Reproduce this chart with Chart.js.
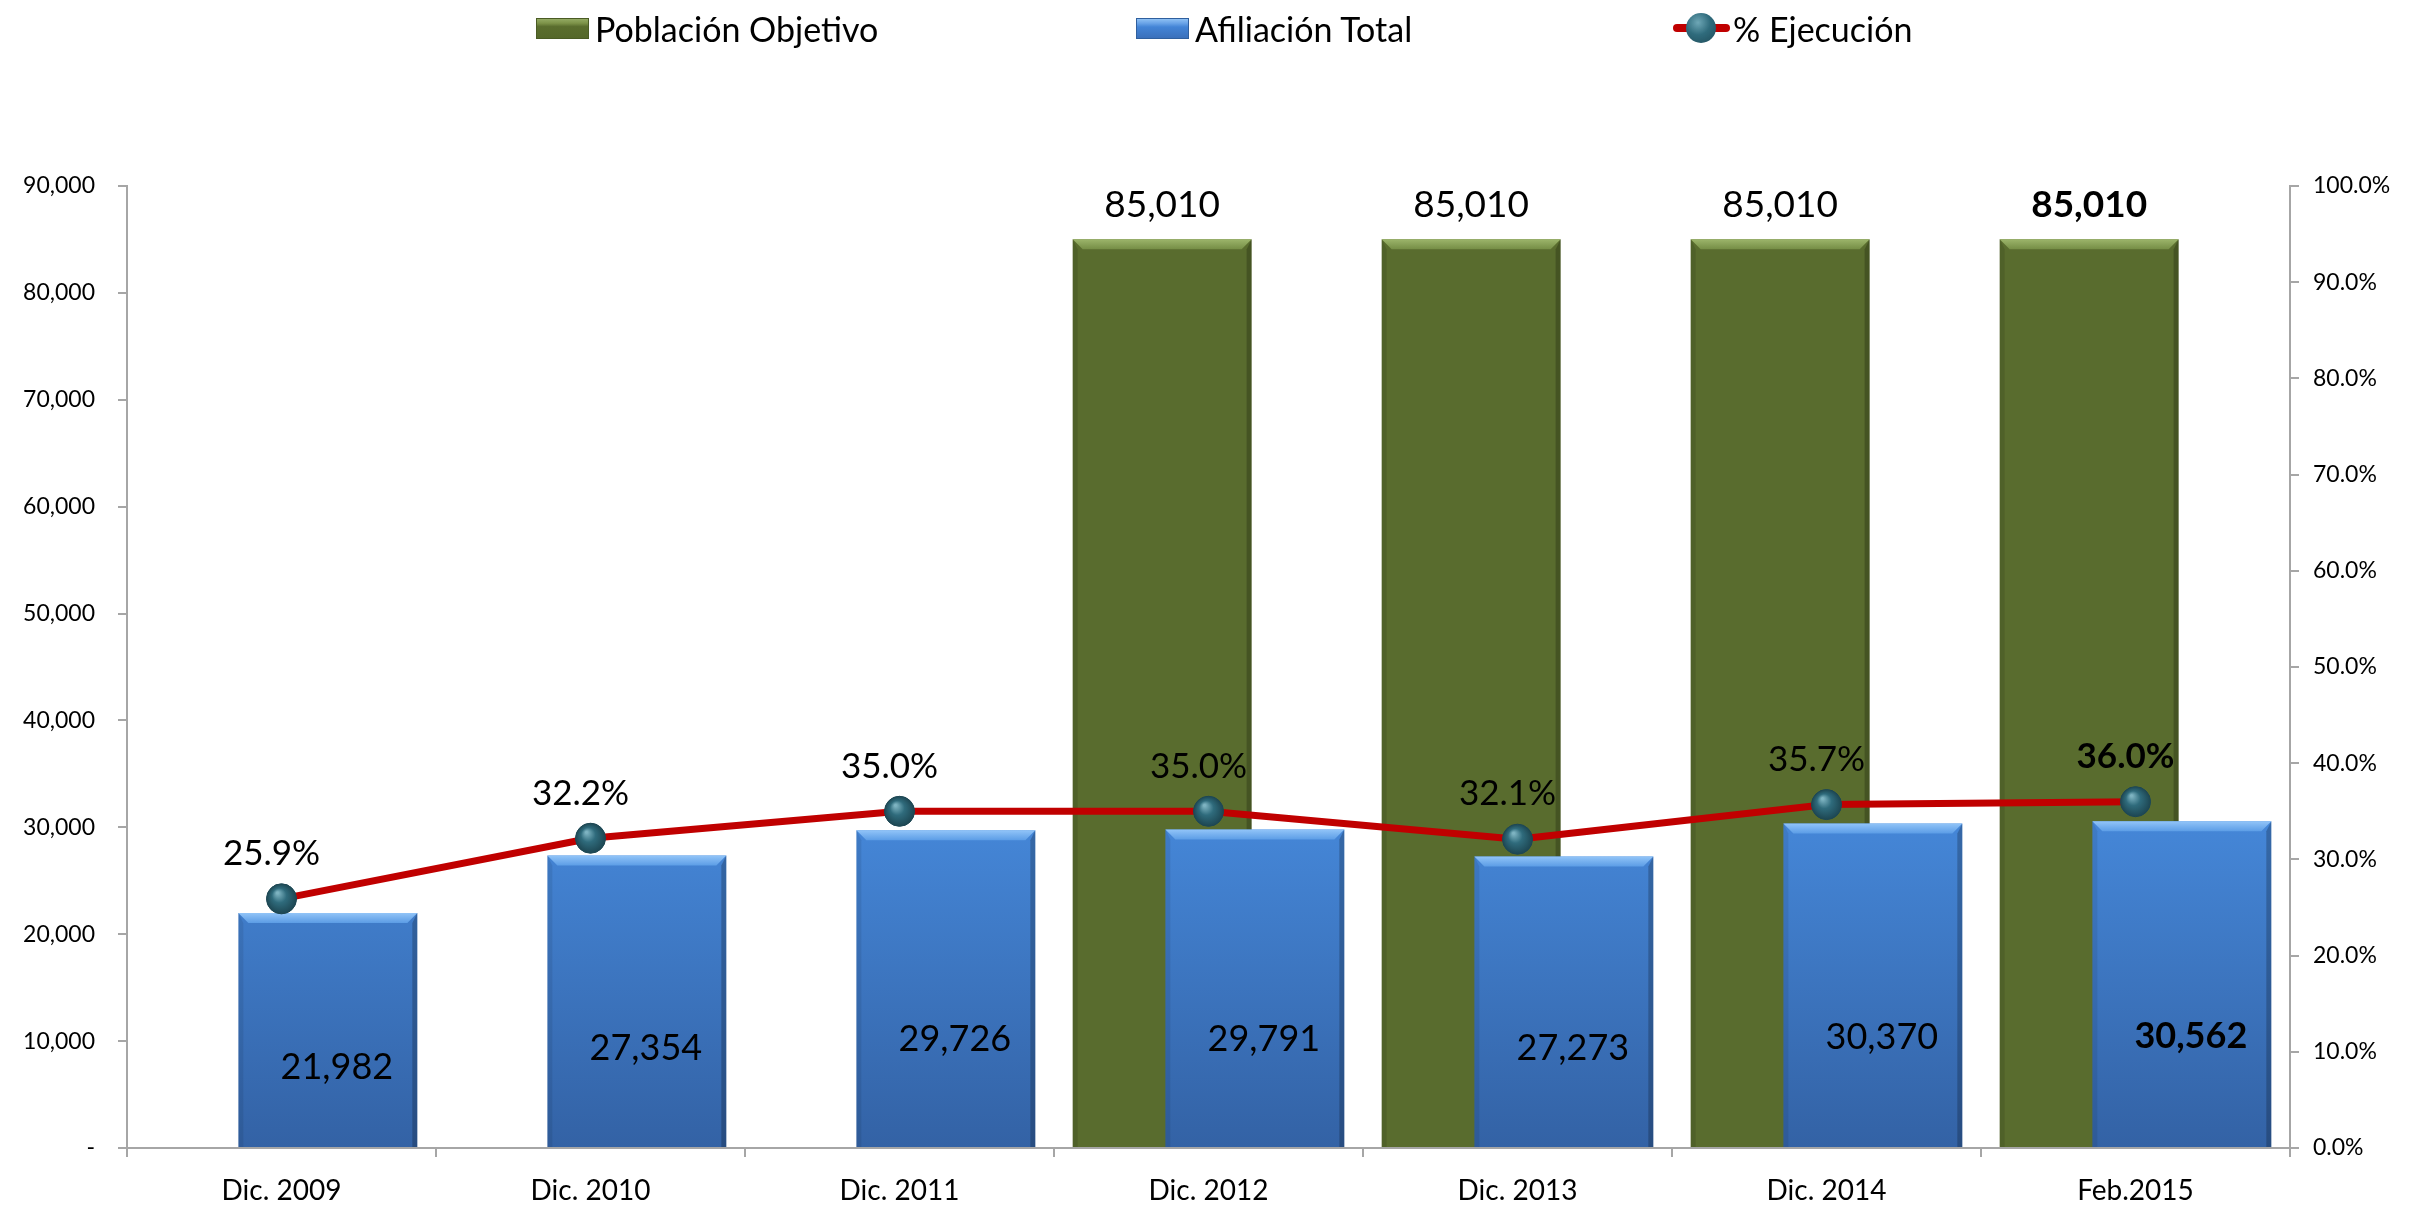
<!DOCTYPE html>
<html>
<head>
<meta charset="utf-8">
<script src="https://cdn.jsdelivr.net/npm/chart.js@4.4.1/dist/chart.umd.min.js"></script>
<style>
  html, body { margin: 0; padding: 0; background: #ffffff; }
  #wrap { position: relative; width: 2428px; height: 1209px; overflow: hidden; background: #fff; }
  #c { position: absolute; left: 0; top: 0; }
  .leg { position: absolute; top: 6px; height: 44px; display: flex; align-items: center;
         font-family: Lato, "Open Sans", sans-serif; font-size: 34px; color: #000; white-space: nowrap; }
  .key { display: inline-block; margin-right: 6px; box-sizing: border-box; }
  .key.bar { width: 53px; height: 21px; }
  .key.green { background: linear-gradient(#93aa63 0%, #7d9349 22%, #5a6d2e 40%, #55682a 100%); border: 1px solid #4a5b24; }
  .key.blue { background: linear-gradient(#8ec0f3 0%, #6aa4e8 22%, #4384d6 42%, #3a70bb 100%); border: 1px solid #2f5f9e; }
  .key.line { position: relative; width: 57px; height: 32px; margin-right: 3px; }
  .key.line::before { content: ""; position: absolute; left: 0; right: 0; top: 12px; height: 8px; background: #c00000; border-radius: 4px; }
  .key.line::after { content: ""; position: absolute; left: 13px; top: 1px; width: 30px; height: 30px; border-radius: 50%;
        background: radial-gradient(circle at 40% 32%, #6ea7b6 0%, #2f6b7c 45%, #1f4b58 100%); }
</style>
</head>
<body>
<div id="wrap">
  <canvas id="c" width="2428" height="1209"></canvas>
  <div id="legend"></div>
</div>
<script>
// ---------- data ----------
const categories = ['Dic. 2009', 'Dic. 2010', 'Dic. 2011', 'Dic. 2012', 'Dic. 2013', 'Dic. 2014', 'Feb.2015'];
const poblacionObjetivo = [null, null, null, 85010, 85010, 85010, 85010];
const afiliacionTotal = [21982, 27354, 29726, 29791, 27273, 30370, 30562];
const ejecucionPct = [25.9, 32.2, 35.0, 35.0, 32.1, 35.7, 36.0];
const seriesNames = ['Población Objetivo', 'Afiliación Total', '% Ejecución'];
const leftAxisRange = [0, 90000];
const leftAxisStep = 10000;
const rightAxisRange = [0, 100];
const rightAxisStep = 10;
const boldIndex = 6; // last period labels are bold

// ---------- helpers ----------
const fmtNum = v => Number(v).toLocaleString('en-US');
const fmtPct = v => Number(v).toFixed(1) + '%';

function barBevel(ctx, el, topA, topB, sideL, sideR) {
  const p = el.getProps(['x', 'y', 'base', 'width'], true);
  const l = p.x - p.width / 2, r = p.x + p.width / 2, t = p.y, b = p.base;
  const bt = 10, bs = 5;
  ctx.save();
  ctx.fillStyle = sideL;
  ctx.beginPath(); ctx.moveTo(l, t); ctx.lineTo(l + bs, t + bt); ctx.lineTo(l + bs, b); ctx.lineTo(l, b); ctx.closePath(); ctx.fill();
  ctx.fillStyle = sideR;
  ctx.beginPath(); ctx.moveTo(r, t); ctx.lineTo(r - bs, t + bt); ctx.lineTo(r - bs, b); ctx.lineTo(r, b); ctx.closePath(); ctx.fill();
  const g = ctx.createLinearGradient(0, t, 0, t + bt);
  g.addColorStop(0, topA); g.addColorStop(1, topB);
  ctx.fillStyle = g;
  ctx.beginPath(); ctx.moveTo(l, t); ctx.lineTo(r, t); ctx.lineTo(r - bs * 2, t + bt); ctx.lineTo(l + bs * 2, t + bt); ctx.closePath(); ctx.fill();
  ctx.restore();
}

const drawOrderPlugin = {
  id: 'drawOrder',
  beforeDatasetDraw(chart, args) {
    if (args.index === 1) return false; // blue drawn after green
  },
  afterDatasetDraw(chart, args) {
    const ctx = chart.ctx;
    if (args.index === 0) {
      const gm = chart.getDatasetMeta(0);
      gm.data.forEach((el, i) => {
        if (poblacionObjetivo[i] == null) return;
        barBevel(ctx, el, 'rgba(160,185,110,0.95)', 'rgba(120,145,72,0.9)', 'rgba(0,0,0,0.10)', 'rgba(0,0,0,0.22)');
      });
      const bm = chart.getDatasetMeta(1);
      bm.controller.draw();
      bm.data.forEach((el, i) => {
        if (afiliacionTotal[i] == null) return;
        barBevel(ctx, el, 'rgba(150,200,250,0.95)', 'rgba(95,160,232,0.9)', 'rgba(0,0,0,0.08)', 'rgba(0,0,0,0.22)');
      });
    }
    if (args.index === 2) {
      const lm = chart.getDatasetMeta(2);
      lm.data.forEach(pt => {
        const { x, y } = pt.getProps(['x', 'y'], true);
        const rg = ctx.createRadialGradient(x - 4, y - 6, 1, x, y, 15);
        rg.addColorStop(0, '#7db3c1');
        rg.addColorStop(0.45, '#2f6b7c');
        rg.addColorStop(1, '#1d4652');
        ctx.save();
        ctx.fillStyle = rg;
        ctx.beginPath(); ctx.arc(x, y, 15, 0, Math.PI * 2); ctx.fill();
        ctx.restore();
      });
    }
  },
  afterDatasetsDraw(chart) {
    const ctx = chart.ctx;
    ctx.save();
    ctx.fillStyle = '#000';
    ctx.textAlign = 'center';
    ctx.textBaseline = 'middle';
    chart.getDatasetMeta(0).data.forEach((el, i) => {
      const v = poblacionObjetivo[i];
      if (v == null) return;
      const { x, y } = el.getProps(['x', 'y'], true);
      ctx.font = (i === boldIndex ? 'bold ' : '') + '37px Lato';
      ctx.fillText(fmtNum(v), x, y - 34);
    });
    chart.getDatasetMeta(1).data.forEach((el, i) => {
      const v = afiliacionTotal[i];
      if (v == null) return;
      const { x, y, base } = el.getProps(['x', 'y', 'base'], true);
      ctx.font = (i === boldIndex ? 'bold ' : '') + '36px Lato';
      ctx.fillText(fmtNum(v), x + 9, base - 0.34 * (base - y));
    });
    chart.getDatasetMeta(2).data.forEach((el, i) => {
      const v = ejecucionPct[i];
      const { x, y } = el.getProps(['x', 'y'], true);
      ctx.font = (i === boldIndex ? 'bold ' : '') + '35px Lato';
      ctx.fillText(fmtPct(v), x - 10, y - 45);
    });
    ctx.restore();
  }
};

function buildLegend() {
  const lg = document.getElementById('legend');
  const lefts = [536, 1136, 1673];
  const kinds = ['bar green', 'bar blue', 'line'];
  seriesNames.forEach((name, i) => {
    const d = document.createElement('div');
    d.className = 'leg';
    d.style.left = lefts[i] + 'px';
    const k = document.createElement('span');
    k.className = 'key ' + kinds[i];
    const t = document.createElement('span');
    t.textContent = name;
    d.appendChild(k); d.appendChild(t);
    lg.appendChild(d);
  });
}

function build() {
  Chart.defaults.font.family = 'Lato';
  Chart.defaults.color = '#000';
  const canvas = document.getElementById('c');
  const axisGrey = '#a6a6a6';
  new Chart(canvas, {
    data: {
      labels: categories,
      datasets: [
        {
          type: 'bar', label: seriesNames[0], data: poblacionObjetivo, yAxisID: 'y', order: 1,
          backgroundColor: '#596c2e', borderWidth: 0,
          categoryPercentage: 0.6, barPercentage: 1.93
        },
        {
          type: 'bar', label: seriesNames[1], data: afiliacionTotal, yAxisID: 'y', order: 2,
          backgroundColor: (c) => {
            const a = c.chart.chartArea;
            if (!a) return '#3f7dcc';
            const g = c.chart.ctx.createLinearGradient(0, a.bottom - (a.bottom - a.top) * 0.36, 0, a.bottom);
            g.addColorStop(0, '#4689db');
            g.addColorStop(1, '#3362a5');
            return g;
          },
          borderWidth: 0,
          categoryPercentage: 0.6, barPercentage: 1.93
        },
        {
          type: 'line', label: seriesNames[2], data: ejecucionPct, yAxisID: 'y1', order: 0,
          borderColor: '#c00000', borderWidth: 7, tension: 0, fill: false,
          pointRadius: 15, pointBackgroundColor: '#2b6373', pointBorderColor: '#1d4652', pointBorderWidth: 1,
          borderCapStyle: 'round', borderJoinStyle: 'round'
        }
      ]
    },
    options: {
      responsive: false,
      animation: false,
      devicePixelRatio: 1,
      events: [],
      layout: { padding: { top: 186, left: 0, right: 0, bottom: 0 } },
      plugins: { legend: { display: false }, tooltip: { enabled: false }, title: { display: false } },
      scales: {
        x: {
          offset: true,
          grid: { offset: true, drawOnChartArea: false, drawTicks: true, tickLength: 9, color: axisGrey, lineWidth: 2 },
          border: { display: true, color: axisGrey, width: 2 },
          ticks: { color: '#000', font: { size: 28 }, padding: 17, maxRotation: 0, autoSkip: false },
          afterFit(s) { s.height = 61; }
        },
        y: {
          position: 'left', min: leftAxisRange[0], max: leftAxisRange[1],
          grid: { drawOnChartArea: false, drawTicks: true, tickLength: 9, color: axisGrey, lineWidth: 2 },
          border: { display: true, color: axisGrey, width: 2 },
          ticks: { stepSize: leftAxisStep, color: '#000', font: { size: 23 }, padding: 23,
                   callback: v => (v === 0 ? '-' : fmtNum(v)) },
          afterFit(s) { s.width = 127; }
        },
        y1: {
          position: 'right', min: rightAxisRange[0], max: rightAxisRange[1],
          grid: { drawOnChartArea: false, drawTicks: true, tickLength: 9, color: axisGrey, lineWidth: 2 },
          border: { display: true, color: axisGrey, width: 2 },
          ticks: { stepSize: rightAxisStep, color: '#000', font: { size: 23 }, padding: 14,
                   callback: v => fmtPct(v) },
          afterFit(s) { s.width = 138; }
        }
      }
    },
    plugins: [drawOrderPlugin]
  });
}

buildLegend();
Promise.all([
  document.fonts.load('22px Lato'),
  document.fonts.load('bold 36px Lato')
]).catch(() => {}).then(build);
</script>
</body>
</html>
